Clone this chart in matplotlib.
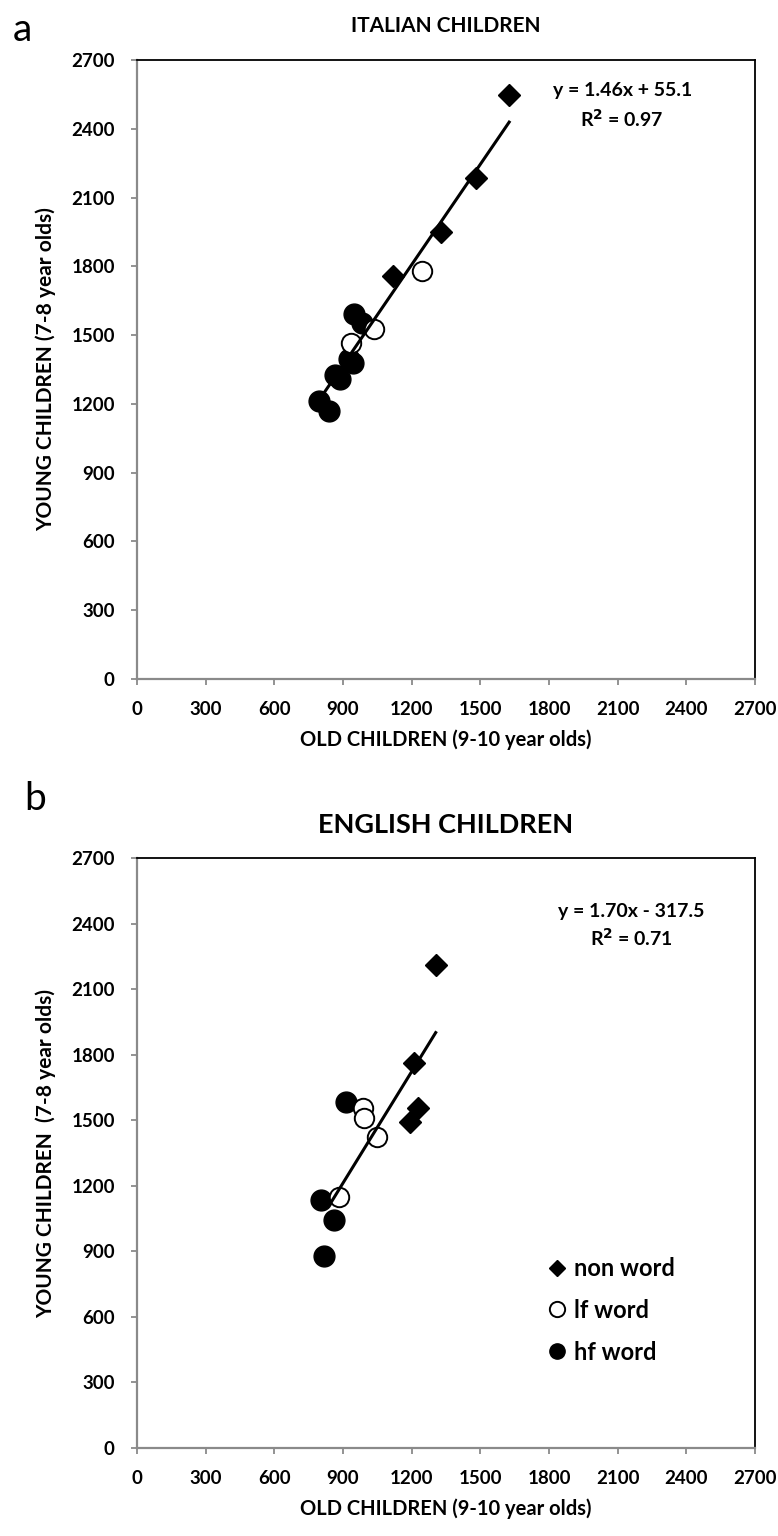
import matplotlib
matplotlib.use("Agg")
import matplotlib.pyplot as plt
from matplotlib.lines import Line2D

plt.rcParams['font.family'] = ['Lato', 'DejaVu Sans']
plt.rcParams['font.weight'] = 'bold'

# ---------------- data ----------------
ticks = [0, 300, 600, 900, 1200, 1500, 1800, 2100, 2400, 2700]

# Panel a: Italian children
it_non_x = [1626, 1480, 1330, 1118]
it_non_y = [2548, 2185, 1948, 1757]
it_lf_x = [1244, 1035, 933]
it_lf_y = [1781, 1527, 1466]
it_hf_x = [947, 984, 926, 945, 867, 885, 794, 838]
it_hf_y = [1590, 1554, 1394, 1378, 1328, 1310, 1212, 1169]
it_slope, it_icpt = 1.46, 55.1
it_trend_x = [794, 1626]
it_eq = "y = 1.46x + 55.1"
it_r2 = "R$^2$ = 0.97"

# Panel b: English children
en_non_x = [1308, 1210, 1228, 1193]
en_non_y = [2210, 1761, 1555, 1490]
en_lf_x = [986, 990, 1050, 882]
en_lf_y = [1555, 1509, 1422, 1147]
en_hf_x = [915, 805, 860, 816]
en_hf_y = [1585, 1135, 1043, 879]
en_slope, en_icpt = 1.70, -317.5
en_trend_x = [845, 1305]
en_eq = "y = 1.70x - 317.5"
en_r2 = "R$^2$ = 0.71"

W, H = 778, 1536
fig = plt.figure(figsize=(W / 100, H / 100), dpi=100)

def make_axes(top_px, bot_px, left_px=137, right_px=755):
    return fig.add_axes([left_px / W, 1 - bot_px / H, (right_px - left_px) / W, (bot_px - top_px) / H])

def style(ax, title, title_size, title_pad, ylabel):
    ax.set_xlim(0, 2700)
    ax.set_ylim(0, 2700)
    ax.set_xticks(ticks)
    ax.set_yticks(ticks)
    ax.set_xticklabels([str(t) for t in ticks])
    ax.set_yticklabels([str(t) for t in ticks])
    for s in ['top', 'right']:
        ax.spines[s].set_color('black')
        ax.spines[s].set_linewidth(1.3)
    for s in ['left', 'bottom']:
        ax.spines[s].set_color('#8a8a8a')
        ax.spines[s].set_linewidth(1.6)
    ax.tick_params(direction='out', length=4, width=1.3, color='#8a8a8a',
                   labelsize=13.5, pad=12)
    for lab in ax.get_xticklabels() + ax.get_yticklabels():
        lab.set_fontweight('bold')
    ax.set_xlabel("OLD CHILDREN (9-10 year olds)", fontsize=14.5, fontweight='bold', labelpad=8)
    ax.set_ylabel(ylabel, fontsize=15, fontweight='bold', labelpad=11)
    ax.set_title(title, fontsize=title_size, fontweight='bold', pad=title_pad)

def draw(ax, nx, ny, lx, ly, hx, hy, slope, icpt, tx):
    ax.plot(hx, hy, linestyle='none', marker='o', markersize=15, color='black', zorder=3)
    ax.plot(lx, ly, linestyle='none', marker='o', markersize=14, markerfacecolor='white',
            markeredgecolor='black', markeredgewidth=1.4, zorder=4)
    ax.plot(nx, ny, linestyle='none', marker='D', markersize=11, color='black', zorder=5)
    ty = [slope * x + icpt for x in tx]
    ax.plot(tx, ty, color='black', linewidth=2.2, zorder=6)

# Panel a
ax1 = make_axes(60, 679)
style(ax1, "ITALIAN CHILDREN", 15, 20, "YOUNG CHILDREN (7-8 year olds)")
draw(ax1, it_non_x, it_non_y, it_lf_x, it_lf_y, it_hf_x, it_hf_y, it_slope, it_icpt, it_trend_x)
ax1.text(0.785, 0.95, it_eq, transform=ax1.transAxes, ha='center', va='center', fontsize=14, fontweight='bold')
ax1.text(0.785, 0.905, it_r2, transform=ax1.transAxes, ha='center', va='center', fontsize=14, fontweight='bold')

# Panel b
ax2 = make_axes(858, 1448)
style(ax2, "ENGLISH CHILDREN", 19.5, 18, "YOUNG CHILDREN  (7-8 year olds)")
draw(ax2, en_non_x, en_non_y, en_lf_x, en_lf_y, en_hf_x, en_hf_y, en_slope, en_icpt, en_trend_x)
ax2.text(0.80, 0.91, en_eq, transform=ax2.transAxes, ha='center', va='center', fontsize=14, fontweight='bold')
ax2.text(0.80, 0.865, en_r2, transform=ax2.transAxes, ha='center', va='center', fontsize=14, fontweight='bold')

handles = [
    Line2D([], [], linestyle='none', marker='D', markersize=8, color='black'),
    Line2D([], [], linestyle='none', marker='o', markersize=11, markerfacecolor='white',
           markeredgecolor='black', markeredgewidth=1.4),
    Line2D([], [], linestyle='none', marker='o', markersize=11, color='black'),
]
ax2.legend(handles, ["non word", "lf word", "hf word"], loc='upper left',
           bbox_to_anchor=(0.63, 0.36), frameon=False, handlelength=0.8,
           handletextpad=0.3, labelspacing=0.8, prop={'size': 17, 'weight': 'bold'})

# panel letters
fig.text(13 / W, 1 - 30 / H, "a", fontsize=28, fontweight='normal', va='center', ha='left')
fig.text(24 / W, 1 - 799 / H, "b", fontsize=28, fontweight='normal', va='center', ha='left')

fig.savefig("out.png", dpi=100)
